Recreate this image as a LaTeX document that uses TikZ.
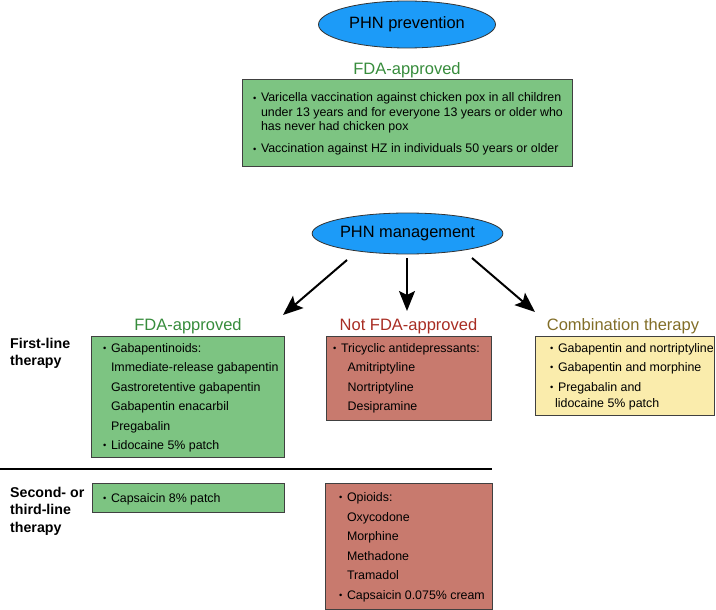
\documentclass[tikz,border=0pt]{standalone}
\usepackage{fontspec}
\setmainfont{Liberation Sans}
\usetikzlibrary{arrows.meta,shapes.geometric}
\definecolor{ellblue}{RGB}{28,155,248}
\definecolor{boxgreen}{RGB}{125,196,130}
\definecolor{txtgreen}{RGB}{55,140,60}
\definecolor{boxred}{RGB}{200,122,110}
\definecolor{txtred}{RGB}{168,45,35}
\definecolor{boxyellow}{RGB}{250,236,172}
\definecolor{txtolive}{RGB}{130,110,40}
\newcommand{\bodyfont}{\fontsize{12.4}{14.5}\selectfont}
\newcommand{\bul}{\makebox[7.8pt][l]{\raisebox{0.6pt}{\scalebox{0.75}{•}}}}
\tikzset{
  ell/.style={ellipse, draw=black!80, line width=0.8pt, fill=ellblue, inner sep=0pt, font=\fontsize{16.4}{18}\selectfont},
  box/.style={rectangle, draw=black!75, line width=1pt, inner sep=0pt},
  ln/.style={anchor=base west, inner sep=0pt, font=\bodyfont},
  head/.style={anchor=base, inner sep=0pt, font=\fontsize{16.5}{18}\selectfont},
  side/.style={anchor=base west, inner sep=0pt, font=\fontsize{14.2}{16}\selectfont\bfseries},
  arr/.style={line width=2pt, -{Stealth[length=20pt,width=16pt,inset=4pt]}}
}
\begin{document}
\begin{tikzpicture}[x=1pt,y=-1pt]
\useasboundingbox (0,0) rectangle (716,610);

% ---- prevention ----
\node[ell, minimum width=177pt, minimum height=47pt] (prev) at (407,24.5) {\raisebox{-0.8pt}{PHN prevention}};
\node[head, text=txtgreen] (fdaTop) at (407,75) {FDA-approved};
\node[box, fill=boxgreen, minimum width=330pt, minimum height=87pt] (topbox) at (407,123.5) {};
\node[ln] (tb1) at (253,102) {\bul Varicella vaccination against chicken pox in all children};
\node[ln] (tb2) at (260.8,116.5) {under 13 years and for everyone 13 years or older who};
\node[ln] (tb3) at (260.8,131) {has never had chicken pox};
\node[ln] (tb4) at (253,153) {\bul Vaccination against HZ in individuals 50 years or older};

% ---- management ----
\node[ell, minimum width=177pt, minimum height=41pt] (mgmt) at (407.5,233.5) {PHN management};
\coordinate (a1s) at (347,260); \coordinate (a1e) at (283,315);
\coordinate (a2s) at (407,258); \coordinate (a2e) at (407,311);
\coordinate (a3s) at (472,258); \coordinate (a3e) at (535,312);
\draw[arr] (a1s) -- (a1e);
\draw[arr] (a2s) -- (a2e);
\draw[arr] (a3s) -- (a3e);

\node[head, text=txtgreen] (hFDA) at (188,330.5) {FDA-approved};
\node[head, text=txtred] (hNot) at (408.5,330.5) {Not FDA-approved};
\node[head, text=txtolive] (hComb) at (623,330.5) {Combination therapy};

% side labels
\node[side] (fl1) at (10,348) {First-line};
\node[side] (fl2) at (10,365.5) {therapy};
\node[side] (sl1) at (10,497) {Second- or};
\node[side] (sl2) at (10,514.5) {third-line};
\node[side] (sl3) at (10,532) {therapy};

% first-line green
\node[box, fill=boxgreen, minimum width=193pt, minimum height=121pt] (g1) at (187.5,396.5) {};
\node[ln] (g1a) at (103,352) {\bul Gabapentinoids:};
\node[ln] (g1b) at (110.8,371.5) {Immediate-release gabapentin};
\node[ln] (g1c) at (110.8,391) {Gastroretentive gabapentin};
\node[ln] (g1d) at (110.8,410.5) {Gabapentin enacarbil};
\node[ln] (g1e) at (110.8,430) {Pregabalin};
\node[ln] (g1f) at (103,449.5) {\bul Lidocaine 5\% patch};

% first-line red
\node[box, fill=boxred, minimum width=165pt, minimum height=84pt] (r1) at (408.5,378) {};
\node[ln] (r1a) at (333,352) {\bul Tricyclic antidepressants:};
\node[ln] (r1b) at (347.5,371.5) {Amitriptyline};
\node[ln] (r1c) at (347.5,391) {Nortriptyline};
\node[ln] (r1d) at (347.5,410.5) {Desipramine};

% combination yellow
\node[box, fill=boxyellow, minimum width=179pt, minimum height=79pt] (y1) at (624.5,375.5) {};
\node[ln] (y1a) at (550,352) {\bul Gabapentin and nortriptyline};
\node[ln] (y1b) at (550,371.5) {\bul Gabapentin and morphine};
\node[ln] (y1c) at (550,391.5) {\bul Pregabalin and};
\node[ln] (y1d) at (555,407) {lidocaine 5\% patch};

% separator
\coordinate (sepL) at (0,469); \coordinate (sepR) at (492,469);
\draw[line width=2pt] (sepL) -- (sepR);

% second-line green
\node[box, fill=boxgreen, minimum width=192pt, minimum height=29pt] (g2) at (188,497.5) {};
\node[ln] (g2a) at (103,502) {\bul Capsaicin 8\% patch};

% second-line red
\node[box, fill=boxred, minimum width=167pt, minimum height=126pt] (r2) at (408.5,546) {};
\node[ln] (r2a) at (339,501.5) {\bul Opioids:};
\node[ln] (r2b) at (346.8,521) {Oxycodone};
\node[ln] (r2c) at (346.8,540.5) {Morphine};
\node[ln] (r2d) at (346.8,560) {Methadone};
\node[ln] (r2e) at (346.8,579.5) {Tramadol};
\node[ln] (r2f) at (339,599) {\bul Capsaicin 0.075\% cream};
\end{tikzpicture}
\end{document}
